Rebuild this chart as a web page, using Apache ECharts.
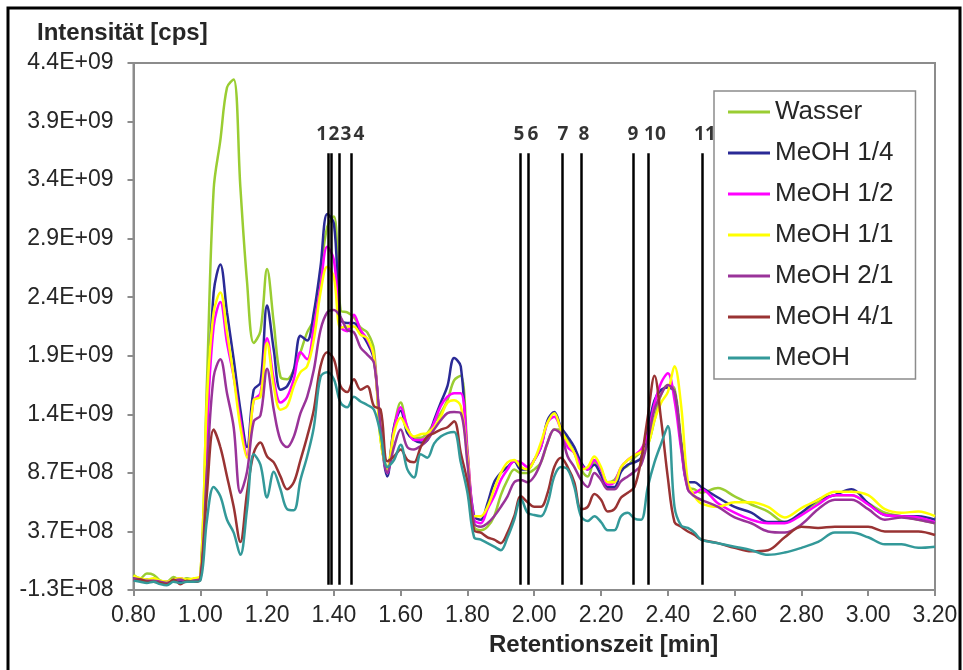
<!DOCTYPE html>
<html><head><meta charset="utf-8">
<script src="https://cdn.jsdelivr.net/npm/echarts@6/dist/echarts.min.js"></script>
<style>html,body{margin:0;padding:0;background:#fff}#c{width:963px;height:670px}</style>
</head><body><div id="c"></div>
<script>
// Retention time [min]
const times = [0.80,0.82,0.84,0.86,0.88,0.90,0.92,0.94,0.96,0.98,
1.00,1.02,1.04,1.06,1.08,1.10,1.12,1.14,1.16,1.18,
1.20,1.22,1.24,1.26,1.28,1.30,1.32,1.34,1.36,1.38,
1.40,1.42,1.44,1.46,1.48,1.50,1.52,1.54,1.56,1.58,
1.60,1.62,1.64,1.66,1.68,1.70,1.72,1.74,1.76,1.78,
1.80,1.82,1.84,1.86,1.88,1.90,1.92,1.94,1.96,1.98,
2.00,2.02,2.04,2.06,2.08,2.10,2.12,2.14,2.16,2.18,
2.20,2.22,2.24,2.26,2.28,2.30,2.32,2.34,2.36,2.38,
2.40,2.42,2.44,2.46,2.48,2.50,
2.55,2.60,2.65,2.70,2.75,2.80,2.85,2.90,2.95,3.00,3.05,3.10,3.15,3.20];

const seriesNames = ['Wasser','MeOH 1/4','MeOH 1/2','MeOH 1/1','MeOH 2/1','MeOH 4/1','MeOH'];

// Intensities in units of 1E+08 cps
const wasser = [0.0,-0.3,0.1,0.0,-0.5,-0.6,-0.2,-0.5,-0.3,-0.4,
-0.2,16.5,32.9,37.1,41.6,42.3,33.1,25.0,19.8,20.8,
26.1,21.5,16.9,16.7,17.5,19.0,20.7,21.8,25.8,29.7,
30.6,22.6,22.4,22.0,21.1,20.7,19.2,11.5,9.2,12.6,
14.7,12.6,11.7,11.7,12.1,13.0,13.8,14.9,16.6,17.0,
10.7,4.1,3.8,4.1,5.0,6.8,8.1,9.0,8.7,8.7,
9.0,9.6,11.3,12.4,12.4,11.5,10.4,9.0,8.4,9.6,
9.0,7.9,8.1,9.0,9.3,10.0,10.5,11.1,13.2,15.4,
16.2,15.9,11.5,7.5,7.3,7.0,
7.4,6.7,6.0,5.4,4.5,5.3,6.2,6.8,6.8,6.1,5.3,5.0,4.7,4.4];

const meoh14 = [-0.2,-0.5,-0.4,-0.6,-0.6,-0.8,-0.5,-0.6,-0.5,-0.6,
-0.3,12.4,24.1,26.5,22.4,18.4,14.1,10.9,15.8,16.4,
23.0,19.2,15.8,16.1,17.5,20.4,20.0,22.4,26.3,30.8,
30.0,21.8,21.5,21.5,20.7,19.8,18.4,12.1,8.4,12.6,
14.0,12.1,11.5,11.3,11.5,13.2,14.7,16.1,18.5,17.8,
10.0,5.0,4.7,6.1,7.9,8.7,9.2,9.7,9.0,9.0,
9.8,10.9,13.2,13.9,12.6,11.8,10.9,9.6,9.0,9.4,
8.5,7.5,7.5,8.8,9.4,9.6,10.0,12.4,14.9,15.8,
16.0,15.6,11.1,7.9,7.9,7.5,
6.6,5.8,5.3,4.5,4.5,5.3,6.4,6.8,7.3,6.1,5.1,5.0,5.0,4.7];

const meoh12 = [-0.4,-0.5,-0.6,-0.5,-0.7,-0.6,-0.5,-0.3,-0.5,-0.4,
-0.3,12.5,21.2,23.3,19.8,16.9,13.2,10.2,14.9,15.5,
20.2,16.7,14.7,15.2,16.7,19.0,18.4,21.2,24.6,28.0,
26.9,21.2,20.8,22.2,20.9,20.1,18.6,12.1,8.7,12.4,
14.3,12.6,11.5,11.5,11.8,13.0,14.4,15.2,15.5,15.5,
10.5,4.7,4.4,5.6,6.7,8.1,9.0,9.7,9.6,9.2,
9.8,10.9,13.0,13.5,12.4,10.9,10.4,9.4,9.0,9.8,
9.0,7.7,7.9,9.2,9.8,10.2,10.7,12.0,14.6,16.4,
17.2,14.9,10.7,7.3,7.0,7.3,
6.1,5.3,4.7,4.4,4.4,5.1,6.0,6.8,6.8,6.0,5.1,5.0,4.9,4.5];

const meoh11 = [-0.1,-0.3,-0.4,-0.3,-0.5,-0.6,-0.4,-0.3,-0.4,-0.3,
-0.1,15.0,22.4,24.1,20.7,16.9,12.6,10.0,14.9,15.2,
19.8,16.1,14.1,14.4,16.1,17.3,17.8,20.1,24.1,26.3,
25.4,21.1,21.2,21.2,20.5,20.2,18.6,11.5,9.0,12.1,
13.4,12.4,11.8,12.0,12.1,12.6,13.5,14.7,14.9,14.4,
10.0,5.0,5.0,5.8,7.3,8.7,9.6,9.8,9.2,9.0,
9.8,11.3,13.0,13.8,12.4,11.3,10.4,9.0,9.2,10.1,
9.2,7.9,7.9,9.2,9.8,10.2,10.5,11.1,13.2,14.7,
15.6,17.8,14.4,7.9,6.7,6.1,
5.8,6.2,6.2,5.8,4.9,5.7,6.4,7.1,7.1,6.8,5.6,5.3,5.4,5.0];

const meoh21 = [-0.3,-0.4,-0.5,-0.5,-0.6,-0.7,-0.5,-0.4,-0.6,-0.5,
-0.3,9.0,16.9,18.4,15.5,12.6,7.0,8.8,13.1,13.6,
17.6,14.1,11.5,10.9,11.8,13.8,15.2,17.5,20.9,22.4,
22.6,22.0,20.9,20.7,19.4,18.8,18.1,12.6,8.7,10.9,
12.4,10.9,10.7,11.0,11.5,12.4,13.2,13.8,13.9,13.8,
9.5,4.4,4.1,4.4,5.0,5.8,6.7,7.9,8.1,7.9,
8.4,9.6,11.3,12.4,12.0,10.1,9.2,8.1,7.5,8.7,
8.1,7.3,7.3,8.0,8.4,8.8,9.4,11.5,14.1,15.4,
16.2,15.6,11.1,7.3,6.7,6.4,
5.8,4.9,4.4,3.7,3.6,4.3,5.6,6.4,6.4,5.6,4.7,4.9,4.7,4.4];

const meoh41 = [-0.5,-0.4,-0.6,-0.6,-0.7,-0.8,-0.4,-0.8,-0.5,-0.6,
-0.4,7.0,12.4,10.9,8.4,5.8,2.8,7.0,10.4,11.3,
10.1,9.6,8.4,7.3,7.9,9.8,11.8,14.1,17.8,19.0,
18.4,16.1,15.6,16.7,15.8,16.1,14.4,14.1,9.7,10.1,
10.7,9.8,9.6,10.9,11.8,12.1,12.4,12.6,13.1,10.4,
7.9,3.8,3.6,3.2,3.0,2.7,3.6,5.0,6.7,6.2,
5.8,5.8,7.0,9.2,10.0,9.2,7.9,5.6,5.8,6.9,
6.4,5.4,5.6,6.6,7.0,7.5,9.8,13.5,17.0,13.2,
8.3,4.5,4.1,3.7,3.4,3.0,
2.7,2.3,2.0,2.1,3.2,4.1,4.0,4.1,4.1,4.1,3.7,3.7,3.7,3.4];

const meoh = [-0.5,-0.6,-0.7,-0.6,-0.8,-0.9,-0.6,-0.7,-0.6,-0.6,
-0.5,4.7,7.5,6.7,4.7,3.6,1.7,5.6,10.3,9.4,
6.6,8.8,7.3,5.6,5.5,8.1,10.1,12.6,16.9,17.3,
16.7,14.7,14.3,15.2,14.8,14.5,14.1,12.0,9.2,9.8,
11.1,9.0,8.3,10.3,10.0,11.2,11.8,12.1,12.2,9.6,
7.0,3.2,3.0,2.7,2.4,2.1,3.2,4.7,6.5,5.3,
5.1,5.0,6.1,8.4,9.2,9.0,7.5,5.0,4.6,5.0,
4.5,3.8,3.8,5.0,5.3,4.8,4.7,7.5,9.6,11.2,
12.7,5.8,4.2,4.0,3.6,3.0,
2.7,2.4,2.1,1.7,1.9,2.3,2.8,3.6,3.6,3.2,2.6,2.6,2.3,2.4];

// Axis ticks
const yTickValues = [-1.3,3.7,8.7,13.7,18.7,23.7,28.7,33.7,38.7,43.7];
const yTickLabels = ['-1.3E+08','3.7E+08','8.7E+08','1.4E+09','1.9E+09','2.4E+09','2.9E+09','3.4E+09','3.9E+09','4.4E+09'];
const xTickValues = [0.8,1.0,1.2,1.4,1.6,1.8,2.0,2.2,2.4,2.6,2.8,3.0,3.2];

// Peak marker lines
const markerTimes = [1.383,1.393,1.416,1.453,1.957,1.983,2.084,2.142,2.295,2.341,2.503];
const markerLabels = ['1','2','3','4','5','6','7','8','9','10','11'];
const markerLabelTimes = [1.3635,1.4003,1.4362,1.4751,1.9542,1.9961,2.0859,2.1488,2.2955,2.3614,2.5111];
const markerTop = 36.0, markerBottom = -0.85, markerLabelLevel = 37.6;

const colors = ['#9acd32','#2a2a96','#ff00ff','#ffff00','#993399','#993333','#339999'];
const allValues = [wasser, meoh14, meoh12, meoh11, meoh21, meoh41, meoh];

const chart = echarts.init(document.getElementById('c'), null, {renderer:'canvas'});
const FONT = '"Liberation Sans", Arial, sans-serif';
const series = allValues.map((vals, i) => ({
  type: 'line', name: seriesNames[i],
  data: times.map((t, j) => [t, vals[j]]),
  smooth: 0.35, symbol: 'none', showSymbol: false,
  lineStyle: {width: 2.5, color: colors[i]},
  itemStyle: {color: colors[i]},
  z: 2
}));
series.push({
  type: 'line', name: 'markers', data: [], silent: true, z: 3,
  markLine: {
    symbol: ['none','none'], silent: true, animation: false,
    label: {show: false},
    lineStyle: {color: '#000', width: 2.5, type: 'solid'},
    emphasis: {disabled: true},
    data: markerTimes.map(t => [{coord: [t, markerTop]}, {coord: [t, markerBottom]}])
  }
});
series.push({
  type: 'scatter', name: 'markerLabels', symbolSize: 0, silent: true, z: 4,
  data: markerLabelTimes.map((t, i) => ({value: [t, markerLabelLevel], name: markerLabels[i]})),
  label: {show: true, position: 'inside', formatter: p => p.name,
    fontFamily: '"Open Sans", "Noto Sans", sans-serif', fontWeight: 'bold', fontSize: 19, color: '#000'}
});

chart.setOption({
  animation: false,
  backgroundColor: '#fff',
  grid: {left: 133.5, right: 28, top: 63, bottom: 80, show: true, borderColor: '#8c8c8c', borderWidth: 2, backgroundColor: 'transparent'},
  xAxis: {
    type: 'value', min: 0.8, max: 3.2,
    axisLine: {onZero: false, lineStyle: {color: '#8c8c8c', width: 2}},
    axisTick: {show: true, length: 6, customValues: xTickValues, lineStyle: {color: '#8c8c8c', width: 2}},
    axisLabel: {customValues: xTickValues, formatter: v => Number(v).toFixed(2), fontFamily: FONT, fontSize: 23, color: '#262626', margin: 14},
    splitLine: {show: false}
  },
  yAxis: {
    type: 'value', min: -1.3, max: 43.7,
    axisLine: {show: true, lineStyle: {color: '#8c8c8c', width: 2}},
    axisTick: {show: true, length: 6, customValues: yTickValues, lineStyle: {color: '#8c8c8c', width: 2}},
    axisLabel: {customValues: yTickValues, fontFamily: FONT, fontSize: 23, color: '#262626', margin: 20,
      formatter: v => {
        let best = 0;
        yTickValues.forEach((t, i) => { if (Math.abs(t - v) < Math.abs(yTickValues[best] - v)) best = i; });
        return yTickLabels[best];
      }},
    splitLine: {show: false}
  },
  legend: {
    data: seriesNames.map(n => ({name: n, icon: 'rect'})), orient: 'vertical', left: 714, top: 91,
    padding: [6, 22, 6, 14], itemGap: 11, itemWidth: 42, itemHeight: 3,
    borderColor: '#8c8c8c', borderWidth: 1.5, backgroundColor: '#fff',
    textStyle: {fontSize: 26, fontFamily: FONT, color: '#262626', lineHeight: 30},
    selectedMode: false
  },
  graphic: [
    {type: 'rect', shape: {x: 8, y: 8, width: 952, height: 670}, style: {fill: 'none', stroke: '#000', lineWidth: 3}, silent: true},
    {type: 'text', x: 37, y: 33, style: {text: 'Intensität [cps]', font: 'bold 24px "Liberation Sans", Arial, sans-serif', fill: '#262626', verticalAlign: 'middle'}},
    {type: 'text', x: 489, y: 645, style: {text: 'Retentionszeit [min]', font: 'bold 24px "Liberation Sans", Arial, sans-serif', fill: '#262626', verticalAlign: 'middle'}}
  ],
  series: series
});
</script>
</body></html>
